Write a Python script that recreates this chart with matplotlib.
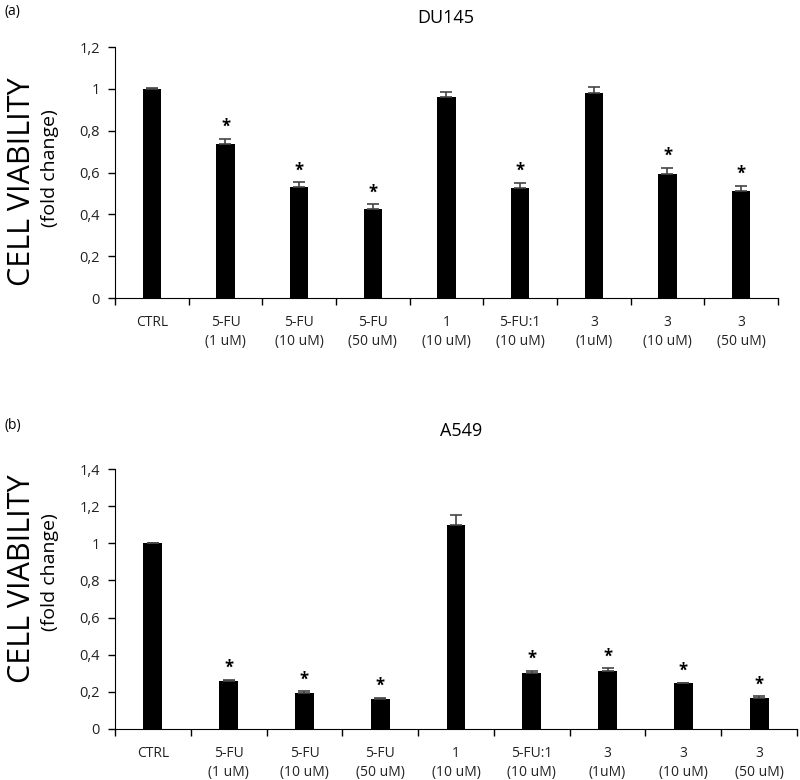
import matplotlib
matplotlib.use("Agg")
import matplotlib.pyplot as plt

plt.rcParams['font.family'] = ['Open Sans', 'DejaVu Sans']

categories = ["CTRL", "5-FU\n(1 uM)", "5-FU\n(10 uM)", "5-FU\n(50 uM)", "1\n(10 uM)",
              "5-FU:1\n(10 uM)", "3\n(1uM)", "3\n(10 uM)", "3\n(50 uM)"]

# DU145 panel
du145_vals = [1.0, 0.737, 0.530, 0.425, 0.962, 0.526, 0.980, 0.594, 0.512]
du145_err = [0.003, 0.024, 0.024, 0.024, 0.024, 0.024, 0.028, 0.028, 0.024]
du145_sig = [False, True, True, True, False, True, False, True, True]
du145_ticks = [0, 0.2, 0.4, 0.6, 0.8, 1.0, 1.2]

# A549 panel
a549_vals = [1.0, 0.258, 0.194, 0.161, 1.098, 0.300, 0.312, 0.247, 0.167]
a549_err = [0.003, 0.007, 0.010, 0.006, 0.054, 0.013, 0.014, 0.003, 0.008]
a549_sig = [False, True, True, True, False, True, True, True, True]
a549_ticks = [0, 0.2, 0.4, 0.6, 0.8, 1.0, 1.2, 1.4]


def draw_panel(ax, vals, errs, sig, yticks):
    x = [i + 0.5 for i in range(len(vals))]
    ax.bar(x, vals, width=0.25, color='black', zorder=2)
    ax.errorbar(x, vals, yerr=[[0] * len(errs), errs], fmt='none', ecolor='#444444',
                elinewidth=1.2, capsize=4, capthick=1.2, zorder=3)
    for xi, v, e, s in zip(x, vals, errs, sig):
        if s:
            ax.annotate('*', (xi, v + e), xytext=(0, 2), textcoords='offset points',
                        ha='center', va='bottom', fontsize=12, fontweight='bold')
    ax.set_xlim(0, len(vals))
    ax.set_ylim(0, yticks[-1])
    ax.set_yticks(yticks)
    ax.set_yticklabels([('%g' % t).replace('.', ',') for t in yticks], fontsize=10.5, color='#222222')
    # boundaries get the tick marks, centres get the labels
    ax.set_xticks(range(len(vals) + 1))
    ax.set_xticklabels([])
    ax.set_xticks(x, minor=True)
    ax.set_xticklabels(categories, minor=True, fontsize=10, color='#222222', linespacing=1.35)
    ax.tick_params(axis='x', which='major', direction='out', length=5, width=1)
    ax.tick_params(axis='x', which='minor', length=0, pad=12)
    ax.tick_params(axis='y', direction='out', length=5, width=1, pad=6)
    ax.spines['top'].set_visible(False)
    ax.spines['right'].set_visible(False)


fig = plt.figure(figsize=(8, 7.8), dpi=100)
ax1 = fig.add_axes([0.14375, 0.6179, 0.82875, 0.3218])
ax2 = fig.add_axes([0.14375, 0.0654, 0.8525, 0.3333])

draw_panel(ax1, du145_vals, du145_err, du145_sig, du145_ticks)
draw_panel(ax2, a549_vals, a549_err, a549_sig, a549_ticks)

fig.text(0.557, 0.977, "DU145", fontsize=13, ha='center', va='center')
fig.text(0.576, 0.447, "A549", fontsize=13, ha='center', va='center')

fig.text(0.006, 0.985, "(a)", fontsize=10, va='center', ha='left')
fig.text(0.006, 0.455, "(b)", fontsize=10, va='center', ha='left')

fig.text(0.028, 0.767, "CELL VIABILITY", rotation=90, fontsize=22, ha='center', va='center')
fig.text(0.063, 0.784, "(fold change)", rotation=90, fontsize=14, ha='center', va='center')
fig.text(0.028, 0.258, "CELL VIABILITY", rotation=90, fontsize=22, ha='center', va='center')
fig.text(0.063, 0.266, "(fold change)", rotation=90, fontsize=14, ha='center', va='center')

fig.savefig("out.png", dpi=100)
